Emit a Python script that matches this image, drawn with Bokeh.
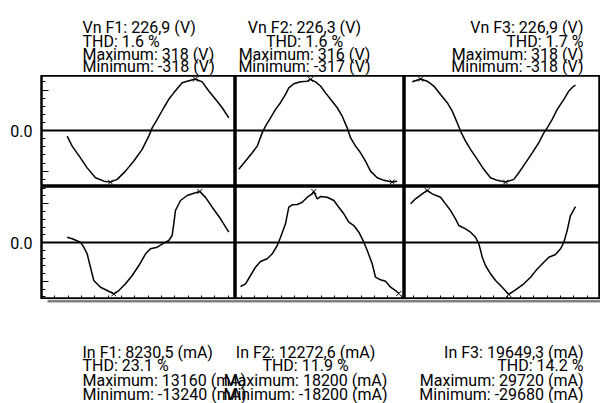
import numpy as np
from bokeh.plotting import figure
from bokeh.layouts import column, row
from bokeh.models import Range1d, FixedTicker, LinearAxis, Span, BoxAnnotation, CustomJSTickFormatter
from bokeh.core.properties import value
from bokeh.embed import file_html
from bokeh.resources import INLINE

# ---------------- data ----------------
phases = ["F1", "F2", "F3"]
v_rms = [226.9, 226.3, 226.9]
v_thd = [1.6, 1.6, 1.7]
v_max = [318, 316, 318]
v_min = [-318, -317, -318]
i_rms = [8230.5, 12272.6, 19649.3]
i_thd = [23.1, 11.9, 14.2]
i_max = [13160, 18200, 29720]
i_min = [-13240, -18200, -29680]

# voltage waveforms (time in ms, value in V)
v1_t = [0, 0.59, 1.56, 2.35, 3.33, 4.31, 5.09, 5.88, 6.86, 7.84, 8.82, 9.6, 10.0, 10.59, 11.36,
        11.95, 12.54, 13.53, 14.12, 15.09, 15.88, 16.66, 17.45, 18.24, 19.01]
v1 = [-34, -96, -168, -230, -291, -312, -318, -301, -250, -188, -116, -34, 17, 69, 141,
      193, 233, 295, 305, 318, 301, 244, 193, 141, 79]
v2_t = [0, 0.79, 1.58, 2.16, 2.75, 3.14, 3.73, 4.32, 4.9, 5.49, 5.88, 6.47, 7.26, 8.05, 8.43,
        9.02, 9.61, 10.2, 10.79, 11.58, 12.16, 12.75, 13.14, 13.73, 14.32, 14.9, 15.49, 16.28,
        17.06, 18.04, 18.63]
v2 = [-239, -188, -137, -96, -14, 28, 79, 131, 172, 223, 264, 289, 301, 305, 316,
      301, 275, 233, 193, 141, 89, 17, -44, -96, -137, -188, -250, -291,
      -307, -317, -312]
v3_t = [0.2, 1.18, 1.96, 2.74, 3.53, 4.32, 4.91, 5.49, 5.88, 6.47, 7.06, 7.85, 8.62, 9.41, 10.2,
        11.18, 12.15, 12.74, 13.53, 14.32, 15.09, 15.68, 16.08, 16.67, 17.26, 18.04, 18.62,
        19.21, 19.41]
v3 = [301, 318, 305, 275, 223, 172, 120, 48, -3, -65, -116, -178, -239, -291, -307,
      -318, -301, -260, -199, -137, -75, -14, 17, 69, 131, 193, 244, 275, 281]

# current waveforms (time in ms, value in mA)
i1_t = [0, 0.59, 1.56, 1.95, 2.35, 2.74, 3.13, 3.92, 4.71, 5.49, 6.08, 6.86, 7.65, 8.43, 9.22,
        9.8, 10.59, 11.36, 11.95, 12.35, 12.54, 12.74, 13.33, 14.12, 14.9, 15.6, 16.27, 17.06,
        18.04, 19.01]
i1 = [1370, 960, 80, -1210, -2920, -6370, -9800, -11530, -12380, -13240, -12380, -10660, -8510,
      -5930, -2920, -1630, -1210, -180, 520, 1810, 4830, 8260, 10840, 12130, 12720, 13160, 11640,
      9110, 6120, 2660]
i2_t = [0.2, 0.79, 1.38, 1.96, 2.55, 3.34, 3.93, 4.52, 4.91, 5.49, 5.88, 6.28, 6.87, 7.46, 8.05,
        8.64, 8.82, 9.22, 9.61, 10.4, 11.18, 11.76, 12.35, 12.94, 13.53, 14.12, 14.71, 15.11,
        15.69, 16.08, 16.67, 17.26, 17.85, 18.44, 18.82]
i2 = [-15710, -14740, -11780, -8820, -6780, -5820, -4030, -1070, 1890, 6680, 12600, 13460, 13570,
      14390, 16170, 17390, 18200, 15600, 16420, 16170, 14990, 12600, 10250, 7250, 6070, 3680, 110,
      -2860, -7600, -12390, -13320, -13820, -15960, -17140, -18200]
i3_t = [0, 0.59, 1.38, 1.96, 2.55, 3.53, 4.12, 4.71, 5.29, 5.68, 6.47, 7.06, 7.65, 8.04, 8.24,
        8.44, 8.82, 9.41, 10.0, 10.79, 11.56, 12.35, 13.33, 14.12, 14.91, 15.68, 16.27, 17.06,
        17.65, 18.04, 18.43, 18.82, 19.41]
i3 = [22100, 24950, 27810, 29720, 27810, 25870, 22100, 18270, 13530, 9710, 7820, 5880, 3030, -740,
      -4570, -8390, -13130, -17870, -21700, -25520, -29680, -27010, -23580, -19810, -15070, -11250,
      -8390, -6850, -3600, 170, 6850, 15420, 20560]

v_series = [(v1_t, v1), (v2_t, v2), (v3_t, v3)]
i_series = [(i1_t, i1), (i2_t, i2), (i3_t, i3)]

# ---------------- layout / style ----------------
FONT = "Roboto"
FSIZE = "16px"
TOTAL_W = 600
LEFT = 41
COL_W = [LEFT + 194, 169, 196]
TOP_H, ROW1_H, ROW2_H, BOT_H = 75, 111, 113, 104

x_ranges = [(-3.02, 19.8), (-0.39, 19.49), (-0.71, 22.35)]
v_range = (-345, 340)
i_ranges = [(-14700, 14450), (-20350, 20000), (-32550, 32000)]
tick_step = 13.333 / 8.5
tick_offsets = [-1.46, 0.28, 0.39]


def wave_fig(c, height, yr):
    p = figure(width=COL_W[c], height=height, x_range=Range1d(*x_ranges[c]),
               y_range=Range1d(*yr), output_backend="svg", toolbar_location=None,
               min_border=0, x_axis_type=None, y_axis_type=None)
    p.min_border_left = LEFT if c == 0 else 0
    p.outline_line_color = "black"
    p.outline_line_width = 2.5
    p.background_fill_color = "white"
    p.border_fill_color = "white"
    p.add_layout(Span(location=0, dimension="width", line_color="black", line_width=2))
    return p


def add_yaxis(p, major, minor):
    lo, hi = p.y_range.start, p.y_range.end
    minors = [m for m in np.arange(-20, 21) * minor if lo < m < hi]
    ax = LinearAxis(ticker=FixedTicker(ticks=[-major, 0, major], minor_ticks=minors),
                    formatter=CustomJSTickFormatter(code="return tick == 0 ? '0.0' : '';"))
    ax.axis_line_color = None
    ax.major_tick_in = 7
    ax.major_tick_out = 0
    ax.minor_tick_in = 4
    ax.minor_tick_out = 0
    ax.major_tick_line_color = "black"
    ax.minor_tick_line_color = "black"
    ax.major_label_text_font = FONT
    ax.major_label_text_font_size = FSIZE
    ax.major_label_text_color = "black"
    ax.major_label_text_baseline = "alphabetic"
    ax.major_label_standoff = 9
    p.add_layout(ax, "left")


def add_xaxis(p, c):
    lo, hi = x_ranges[c]
    minors = [tick_offsets[c] + k * tick_step for k in range(-5, 20)]
    minors = [m for m in minors if lo < m < hi]
    ax = LinearAxis(ticker=FixedTicker(ticks=[], minor_ticks=minors),
                    formatter=CustomJSTickFormatter(code="return '';"))
    ax.axis_line_color = None
    ax.major_tick_in = 0
    ax.major_tick_out = 0
    ax.minor_tick_in = 4
    ax.minor_tick_out = 0
    ax.minor_tick_line_color = "black"
    ax.major_label_text_font_size = "0px"
    ax.major_label_standoff = 0
    p.add_layout(ax, "below")


top_figs, bot_figs = [], []
for c in range(3):
    pv = wave_fig(c, ROW1_H, v_range)
    t, y = v_series[c]
    pv.line(t, y, line_color="black", line_width=1.5)
    k = [int(np.argmax(y)), int(np.argmin(y))]
    pv.scatter([t[j] for j in k], [y[j] for j in k], marker="x", size=7,
               line_color="black", line_width=1)
    if c == 0:
        add_yaxis(pv, 250, 50)
    top_figs.append(pv)

    pi = wave_fig(c, ROW2_H, i_ranges[c])
    t, y = i_series[c]
    pi.line(t, y, line_color="black", line_width=1.5)
    k = [int(np.argmax(y)), int(np.argmin(y))]
    pi.scatter([t[j] for j in k], [y[j] for j in k], marker="x", size=7,
               line_color="black", line_width=1)
    if c == 0:
        add_yaxis(pi, 10000, 2000)
    add_xaxis(pi, c)
    bot_figs.append(pi)


def text_fig(height):
    p = figure(width=TOTAL_W, height=height, x_range=Range1d(0, TOTAL_W),
               y_range=Range1d(height, 0), output_backend="svg", toolbar_location=None,
               min_border=0, x_axis_type=None, y_axis_type=None)
    p.outline_line_color = None
    p.background_fill_color = "white"
    p.border_fill_color = "white"
    return p


def fmt(v):
    return f"{v:.1f}".replace(".", ",")


text_align = ["left", "center", "right"]

ptop = text_fig(TOP_H)
top_base = [27, 41, 54, 66]
top_x = [82, 304, 583]
for c in range(3):
    lines = [f"Vn {phases[c]}: {fmt(v_rms[c])} (V)", f"THD: {v_thd[c]} %",
             f"Maximum: {v_max[c]} (V)", f"Minimum: {v_min[c]} (V)"]
    ptop.text(x=[top_x[c]] * 4, y=top_base, text=lines, text_align=text_align[c],
              text_baseline="alphabetic", text_font=value(FONT), text_font_size=FSIZE,
              text_color="black")

pbot = text_fig(BOT_H)
pbot.add_layout(BoxAnnotation(left=47, right=TOTAL_W, top=0, bottom=3,
                              fill_color="#808080", fill_alpha=1, line_color=None))
bot_base = [53, 66, 81, 95]
bot_x = [82, 305, 583]
for c in range(3):
    lines = [f"In {phases[c]}: {fmt(i_rms[c])} (mA)", f"THD: {i_thd[c]} %",
             f"Maximum: {i_max[c]} (mA)", f"Minimum: {i_min[c]} (mA)"]
    pbot.text(x=[bot_x[c]] * 4, y=bot_base, text=lines, text_align=text_align[c],
              text_baseline="alphabetic", text_font=value(FONT), text_font_size=FSIZE,
              text_color="black")

layout = column(ptop, row(*top_figs), row(*bot_figs), pbot, spacing=0)
open("out.html", "w").write(file_html(layout, INLINE))
